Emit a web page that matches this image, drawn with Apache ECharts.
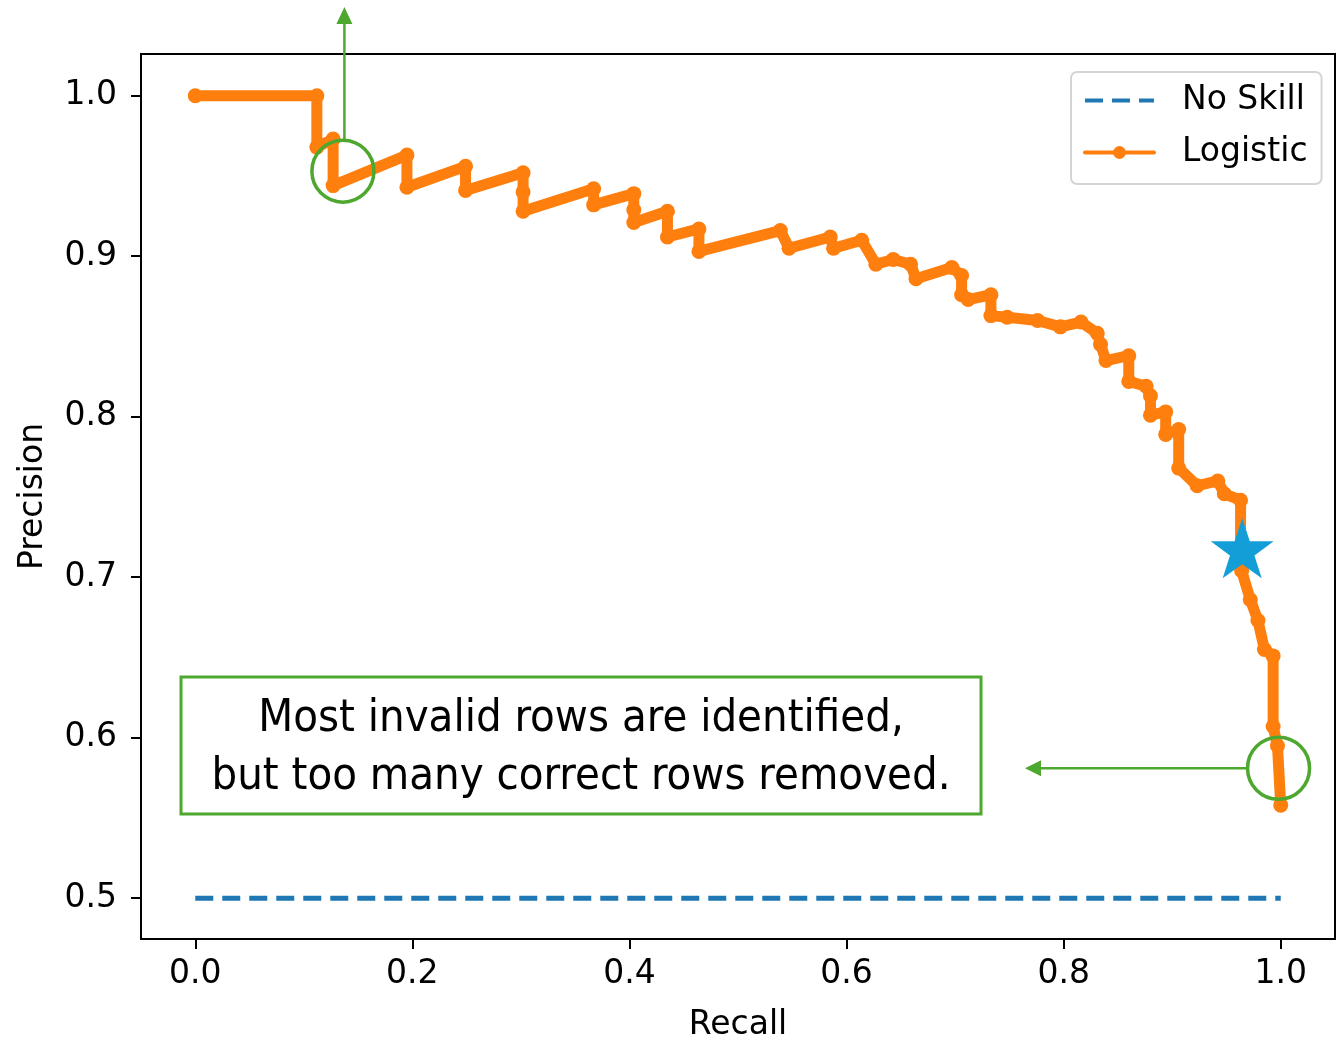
<!DOCTYPE html>
<html><head><meta charset="utf-8">
<script src="https://cdn.jsdelivr.net/npm/echarts@6/dist/echarts.min.js"></script>
<style>html,body{margin:0;padding:0;background:#fff}#c{width:1337px;height:1047px}</style>
</head><body><div id="c"></div>
<script>
// ---- data ----
const recall = [0.000, 0.112, 0.112, 0.127, 0.127, 0.195, 0.195, 0.249, 0.249, 0.302, 0.302, 0.302,
  0.367, 0.367, 0.404, 0.404, 0.404, 0.435, 0.435, 0.464, 0.464, 0.539, 0.547, 0.585, 0.588, 0.614,
  0.627, 0.643, 0.659, 0.664, 0.697, 0.706, 0.706, 0.712, 0.733, 0.733, 0.748, 0.776, 0.797, 0.816,
  0.831, 0.834, 0.839, 0.860, 0.860, 0.876, 0.880, 0.880, 0.894, 0.894, 0.906, 0.906, 0.923, 0.942,
  0.948, 0.963, 0.963, 0.964, 0.972, 0.979, 0.985, 0.993, 0.993, 0.997, 1.000];
const precision = [1.000, 1.000, 0.968, 0.973, 0.944, 0.963, 0.943, 0.956, 0.941, 0.952, 0.940, 0.928,
  0.942, 0.932, 0.939, 0.929, 0.921, 0.928, 0.912, 0.917, 0.903, 0.916, 0.905, 0.912, 0.905, 0.910,
  0.895, 0.898, 0.895, 0.886, 0.893, 0.888, 0.876, 0.873, 0.876, 0.863, 0.862, 0.860, 0.856, 0.859,
  0.852, 0.845, 0.835, 0.838, 0.822, 0.819, 0.813, 0.801, 0.803, 0.789, 0.792, 0.768, 0.757, 0.760,
  0.752, 0.748, 0.719, 0.704, 0.686, 0.673, 0.655, 0.651, 0.607, 0.595, 0.558];
const noSkillRecall = [0, 1];
const noSkillPrecision = [0.5, 0.5];
const xTicks = [0.0, 0.2, 0.4, 0.6, 0.8, 1.0];
const yTicks = [0.5, 0.6, 0.7, 0.8, 0.9, 1.0];
const bestPoint = [0.9645, 0.718];
const highlightPoints = [[0.136, 0.953], [0.998, 0.581]];
const seriesNames = ['No Skill', 'Logistic'];
const noteLines = ['Most invalid rows are identified,', 'but too many correct rows removed.'];

// ---- chart ----
const GREEN = '#4EA72E';
const FONT = 'DejaVu Sans';
const FS = 33;
const chart = echarts.init(document.getElementById('c'), null, {renderer: 'canvas'});
const logisticData = recall.map((r, i) => [r, precision[i]]);
const noSkillData = noSkillRecall.map((r, i) => [r, noSkillPrecision[i]]);
const STAR = 'path://M50,0 L61.8,35.1 L98.9,35.1 L69,56.9 L80.3,91.9 L50,70.2 L19.7,91.9 L31,56.9 L1.1,35.1 L38.2,35.1 Z';

chart.setOption({
  animation: false,
  backgroundColor: '#fff',
  grid: {left: 141, top: 54, width: 1194, height: 890, show: true, borderColor: '#000', borderWidth: 2, backgroundColor: 'transparent'},
  xAxis: {
    type: 'value', min: -0.05, max: 1.05,
    name: 'Recall', nameLocation: 'middle', nameGap: 70,
    nameTextStyle: {fontFamily: FONT, fontSize: FS, color: '#000'},
    axisLine: {show: true, onZero: false, lineStyle: {color: '#000', width: 2}},
    axisTick: {show: true, length: 10, lineStyle: {color: '#000', width: 2}, customValues: xTicks},
    axisLabel: {fontFamily: FONT, fontSize: FS, color: '#000', margin: 19, customValues: xTicks, formatter: v => v.toFixed(1)},
    splitLine: {show: false}
  },
  yAxis: {
    type: 'value', min: 0.4746, max: 1.026,
    name: 'Precision', nameLocation: 'middle', nameGap: 91,
    nameTextStyle: {fontFamily: FONT, fontSize: FS, color: '#000'},
    axisLine: {show: true, onZero: false, lineStyle: {color: '#000', width: 2}},
    axisTick: {show: true, length: 10, lineStyle: {color: '#000', width: 2}, customValues: yTicks},
    axisLabel: {fontFamily: FONT, fontSize: FS, color: '#000', margin: 24, customValues: yTicks, formatter: v => v.toFixed(1)},
    splitLine: {show: false}
  },
  legend: {
    orient: 'vertical', left: 1071, top: 72,
    padding: [12, 14, 15, 12], itemGap: 19, itemWidth: 69, itemHeight: 16,
    borderColor: '#d4d4d4', borderWidth: 2, borderRadius: 6, backgroundColor: 'rgba(255,255,255,0.8)',
    textStyle: {fontFamily: FONT, fontSize: FS, color: '#000', padding: [0, 0, 0, 23]},
    lineStyle: {width: 4},
    data: [{name: seriesNames[0], itemStyle: {opacity: 0}}, {name: seriesNames[1]}]
  },
  series: [
    {
      name: seriesNames[0], type: 'line', data: noSkillData, showSymbol: false, symbol: 'none',
      lineStyle: {color: '#1f77b4', width: 5, type: [18, 9]}, itemStyle: {color: '#1f77b4'}, z: 2
    },
    {
      name: seriesNames[1], type: 'line', data: logisticData, symbol: 'circle', symbolSize: 15,
      lineStyle: {color: '#ff7f0e', width: 11, join: 'round', cap: 'round'}, itemStyle: {color: '#ff7f0e'}, z: 3
    },
    {
      name: 'best', type: 'scatter', data: [bestPoint], symbol: STAR, symbolSize: [63, 60],
      itemStyle: {color: '#149ED7', opacity: 1}, z: 5, silent: true
    }
  ]
});

// ---- annotations ----
const R = 31;
const c1 = chart.convertToPixel({gridIndex: 0}, highlightPoints[0]);
const c2 = chart.convertToPixel({gridIndex: 0}, highlightPoints[1]);
const ax = c1[0] + 1.5;
const NOTE_FONT = '"DejaVu Sans Condensed", "DejaVu Sans"';
chart.setOption({
  graphic: [
    {type: 'circle', shape: {cx: c1[0], cy: c1[1], r: R}, style: {fill: 'none', stroke: GREEN, lineWidth: 3.5}, z: 100},
    {type: 'circle', shape: {cx: c2[0], cy: c2[1], r: R}, style: {fill: 'none', stroke: GREEN, lineWidth: 3.5}, z: 100},
    {type: 'line', shape: {x1: ax, y1: c1[1] - R, x2: ax, y2: 22}, style: {stroke: GREEN, lineWidth: 2.5}, z: 100},
    {type: 'polygon', shape: {points: [[ax, 7], [ax - 8, 24], [ax + 8, 24]]}, style: {fill: GREEN}, z: 100},
    {type: 'line', shape: {x1: c2[0] - R, y1: c2[1], x2: 1039, y2: c2[1]}, style: {stroke: GREEN, lineWidth: 2.5}, z: 100},
    {type: 'polygon', shape: {points: [[1025, c2[1]], [1041, c2[1] - 8], [1041, c2[1] + 8]]}, style: {fill: GREEN}, z: 100},
    {type: 'rect', shape: {x: 181, y: 677, width: 800, height: 137}, style: {fill: '#fff', stroke: GREEN, lineWidth: 3}, z: 100},
    {type: 'text', x: 581, y: 719, style: {text: noteLines[0], fontFamily: NOTE_FONT, fontSize: 45, fill: '#000', align: 'center', verticalAlign: 'middle'}, z: 101},
    {type: 'text', x: 581, y: 777, style: {text: noteLines[1], fontFamily: NOTE_FONT, fontSize: 45, fill: '#000', align: 'center', verticalAlign: 'middle'}, z: 101}
  ]
});
</script></body></html>
